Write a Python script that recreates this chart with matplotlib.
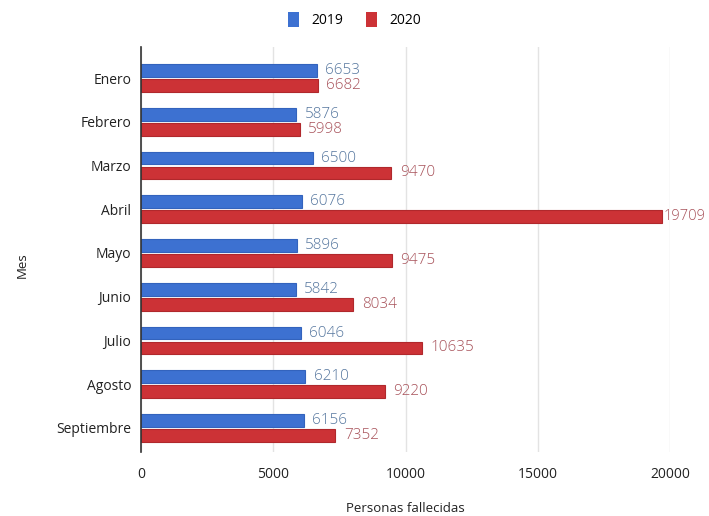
import matplotlib.pyplot as plt
import numpy as np
from matplotlib.patches import Patch

months = ["Enero", "Febrero", "Marzo", "Abril", "Mayo", "Junio",
          "Julio", "Agosto", "Septiembre"]
deaths2019 = [6653, 5876, 6500, 6076, 5896, 5842, 6046, 6210, 6156]
deaths2020 = [6682, 5998, 9470, 19709, 9475, 8034, 10635, 9220, 7352]
xticks = [0, 5000, 10000, 15000, 20000]

blue = "#3d71d1"
red = "#cc3236"
blueText = "#56779f"
redText = "#a8525a"

plt.rcParams["font.family"] = ["Open Sans", "DejaVu Sans"]

fig = plt.figure(figsize=(7.09, 5.16), dpi=100)
ax = fig.add_axes([141 / 709, 1 - 452 / 516, (670 - 141) / 709, (452 - 47) / 516])

pos = np.arange(len(months))
h = 0.29
off = 0.17
ax.barh(pos - off, deaths2019, height=h, color=blue, edgecolor="#3363bd", linewidth=0.8, zorder=3)
ax.barh(pos + off, deaths2020, height=h, color=red, edgecolor="#b0282c", linewidth=0.8, zorder=3)

for y, v in zip(pos - off, deaths2019):
    ax.annotate(str(v), (v, y), xytext=(6, 0), textcoords="offset points",
                va="center", ha="left", color=blueText, fontsize=11,
                fontweight="light", zorder=4)
for y, v in zip(pos + off, deaths2020):
    # the widest bar's label would run past the right edge, so keep it tight
    dx = 1 if v > 19000 else 6
    ax.annotate(str(v), (v, y), xytext=(dx, 0), textcoords="offset points",
                va="center", ha="left", color=redText,
                fontsize=10.5 if v > 19000 else 11, fontweight="light", zorder=4,
                annotation_clip=False)

ax.set_xlim(0, 20000)
ax.set_ylim(len(months) - 1 + 0.55, -0.71)
ax.set_xticks(xticks)
ax.set_xticklabels([str(t) for t in xticks])
ax.set_yticks(pos)
ax.set_yticklabels(months)
ax.tick_params(axis="x", length=0, pad=11, labelsize=10, colors="#222222")
ax.tick_params(axis="y", length=0, pad=7, labelsize=10, colors="#222222")

ax.grid(axis="x", color="#e3e3e3", linewidth=1, zorder=0)
for s in ["top", "right", "bottom"]:
    ax.spines[s].set_visible(False)
ax.spines["left"].set_color("#333333")
ax.spines["left"].set_linewidth(1.2)
ax.spines["left"].set_zorder(5)

fig.text(405 / 709, 1 - 508 / 516, "Personas fallecidas", ha="center", va="center",
         fontsize=9.5, color="#222222")
fig.text(22 / 709, 1 - 265 / 516, "Mes", ha="center", va="center", rotation=90,
         fontsize=9.5, color="#222222")

handles = [Patch(facecolor=blue, label="2019"), Patch(facecolor=red, label="2020")]
fig.legend(handles=handles, loc="center", bbox_to_anchor=(0.5, 1 - 20 / 516), ncol=2,
           frameon=False, fontsize=10, handlelength=0.8, handleheight=1.3,
           columnspacing=1.6, handletextpad=0.9)

fig.savefig("out.png", dpi=100)
